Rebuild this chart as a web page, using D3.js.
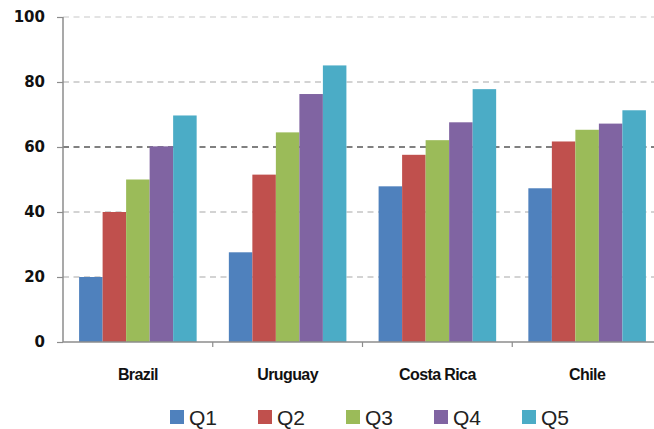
<!DOCTYPE html>
<html>
<head>
<meta charset="utf-8">
<script src="https://cdnjs.cloudflare.com/ajax/libs/d3/7.8.5/d3.min.js"></script>
<style>
	body { margin: 0; background: #fff; }
	svg { display: block; }
</style>
</head>
<body>
<div class="container"></div>
<script>
// data
var countries = ['Brazil', 'Uruguay', 'Costa Rica', 'Chile'];
var quintiles = ['Q1', 'Q2', 'Q3', 'Q4', 'Q5'];
var q1 = [20, 27.6, 47.9, 47.3];
var q2 = [40, 51.5, 57.6, 61.7];
var q3 = [50, 64.5, 62.1, 65.3];
var q4 = [60.2, 76.3, 67.6, 67.2];
var q5 = [69.7, 85.1, 77.8, 71.3];
var y_ticks = [0, 20, 40, 60, 80, 100];
var colors = ['#4F81BD', '#C0504D', '#9BBB59', '#8064A2', '#4BACC6'];

var series = [q1, q2, q3, q4, q5];

var width = 654, height = 429;
var plot = {left: 63, right: 662, top: 17, bottom: 342};

var svg = d3.select('.container').append('svg')
	.attr('width', width)
	.attr('height', height);

var x0 = d3.scaleBand()
	.domain(countries)
	.range([plot.left, plot.right])
	.paddingInner(0.215)
	.paddingOuter(0.1075);

var x1 = d3.scaleBand()
	.domain(quintiles)
	.range([0, x0.bandwidth()]);

var y_scale = d3.scaleLinear()
	.domain([0, 100])
	.range([plot.bottom, plot.top]);

var color_scale = d3.scaleOrdinal()
	.domain(quintiles)
	.range(colors);

// gridlines (dashed), the 60 one is darker in the original
svg.append('g')
	.selectAll('line')
	.data(y_ticks.filter(function(d) { return d > 0; }))
	.enter()
	.append('line')
	.attr('x1', plot.left)
	.attr('x2', width)
	.attr('y1', function(d) { return y_scale(d); })
	.attr('y2', function(d) { return y_scale(d); })
	.attr('stroke', function(d) { return d === 60 ? '#808080' : (d === 100 ? '#c8c8c8' : '#a8a8a8'); })
	.attr('stroke-width', function(d) { return d === 60 ? 2 : 1.2; })
	.attr('stroke-dasharray', '6,4.5');

// bars
var groups = svg.append('g')
	.selectAll('g')
	.data(countries)
	.enter()
	.append('g')
	.attr('transform', function(d) { return 'translate(' + x0(d) + ',0)'; });

groups.selectAll('rect')
	.data(function(c, ci) {
		return quintiles.map(function(q, qi) { return {q: q, v: series[qi][ci]}; });
	})
	.enter()
	.append('rect')
	.attr('x', function(d) { return x1(d.q); })
	.attr('width', x1.bandwidth())
	.attr('y', function(d) { return y_scale(d.v); })
	.attr('height', function(d) { return plot.bottom - y_scale(d.v); })
	.attr('fill', function(d) { return color_scale(d.q); });

// y axis
var y_axis = d3.axisLeft(y_scale)
	.tickValues(y_ticks)
	.tickSize(6)
	.tickPadding(12);

var gy = svg.append('g')
	.attr('transform', 'translate(' + plot.left + ',0)')
	.call(y_axis);
gy.select('.domain').attr('stroke', '#8c8c8c').attr('stroke-width', 1.5).attr('d', 'M0,' + plot.top + 'V' + plot.bottom);
gy.selectAll('.tick line').attr('stroke', '#8c8c8c').attr('stroke-width', 1.2);
gy.selectAll('.tick text')
	.attr('font-family', '"DejaVu Sans", Verdana, sans-serif')
	.attr('font-weight', 'bold')
	.attr('font-size', 15)
	.attr('fill', '#111');

// x axis: boundary ticks between categories
var gx = svg.append('g');
gx.append('line')
	.attr('x1', plot.left).attr('x2', width)
	.attr('y1', plot.bottom).attr('y2', plot.bottom)
	.attr('stroke', '#8c8c8c').attr('stroke-width', 1.5);
gx.selectAll('line.tick')
	.data(countries.slice(1))
	.enter()
	.append('line')
	.attr('class', 'tick')
	.attr('x1', function(d) { return x0(d) - x0.step() * x0.paddingInner() / 2; })
	.attr('x2', function(d) { return x0(d) - x0.step() * x0.paddingInner() / 2; })
	.attr('y1', plot.bottom).attr('y2', plot.bottom + 5)
	.attr('stroke', '#8c8c8c').attr('stroke-width', 1.2);
gx.selectAll('text')
	.data(countries)
	.enter()
	.append('text')
	.attr('x', function(d) { return x0(d) + x0.bandwidth() / 2; })
	.attr('y', 380)
	.attr('text-anchor', 'middle')
	.attr('font-family', '"Liberation Sans", Arial, sans-serif')
	.attr('font-weight', 'bold')
	.attr('font-size', 16)
	.attr('letter-spacing', -0.6)
	.attr('fill', '#111')
	.text(function(d) { return d; });

// legend
var legend = svg.append('g')
	.selectAll('g')
	.data(quintiles)
	.enter()
	.append('g')
	.attr('transform', function(d, i) { return 'translate(' + (170 + i * 88) + ',410)'; });

legend.append('rect')
	.attr('width', 14)
	.attr('height', 14)
	.attr('fill', function(d) { return color_scale(d); });

legend.append('text')
	.attr('x', 19)
	.attr('y', 15)
	.attr('font-family', '"Liberation Sans", Arial, sans-serif')
	.attr('font-size', 21)
	.attr('fill', '#222')
	.text(function(d) { return d; });
</script>
</body>
</html>
